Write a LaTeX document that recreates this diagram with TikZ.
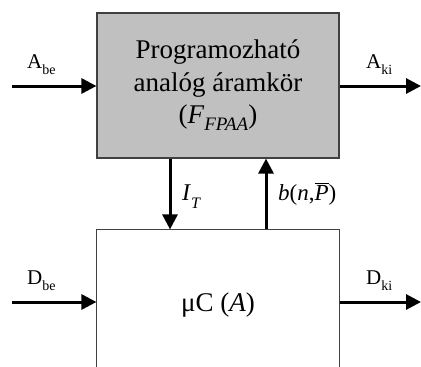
\documentclass[tikz,border=0pt]{standalone}
\usepackage{fontspec}
\setmainfont{Liberation Serif}
\usetikzlibrary{arrows.meta}
\definecolor{boxgray}{HTML}{C0C0C0}
\definecolor{edge}{HTML}{404040}
\newcommand\lowsub[3]{\raisebox{-#1pt}{\fontsize{#2}{#2}\selectfont #3}}
\tikzset{
  arr/.style={line width=3pt,-{Triangle[length=15pt,width=15pt]}},
  blk/.style={draw=edge,line width=1.2pt,minimum width=242pt,inner sep=0pt},
  lab/.style={inner sep=0pt,font=\fontsize{21}{24}\selectfont},
}
\begin{document}
\begin{tikzpicture}[x=1pt,y=-1pt]
\useasboundingbox (0,0) rectangle (421,367);
\node[blk,fill=boxgray,minimum height=145pt,align=center,
  font=\fontsize{27}{32.5}\selectfont] (fpaa) at (218,85.5)
  {Programozható\\analóg áramkör\\(\textit{F}\lowsub{7}{19}{\textit{FPAA}})};
\node[blk,draw=none,minimum height=150pt,font=\fontsize{27}{32}\selectfont] (mc) at (218,305)
  {μC (\textit{A})};
\draw[edge,line width=1.2pt] (mc.south west) -- (mc.north west) -- (mc.north east) -- (mc.south east);
\coordinate (abe) at (12,86);
\coordinate (aki) at (421,86);
\coordinate (dbe) at (12,302);
\coordinate (dki) at (421,302);
\draw[arr] (abe) -- (abe -| fpaa.west);
\draw[arr] (aki -| fpaa.east) -- (aki);
\draw[arr] (dbe) -- (dbe -| mc.west);
\draw[arr] (dki -| mc.east) -- (dki);
\draw[arr] ([xshift=-48pt]fpaa.south) -- ([xshift=-48pt]mc.north);
\draw[arr] ([xshift=48pt]mc.north) -- ([xshift=48pt]fpaa.south);
\node[lab,anchor=base west] (labe) at (27,68) {A\lowsub{6}{14}{be}};
\node[lab,anchor=base west] (laki) at (366,68) {A\lowsub{6}{14}{ki}};
\node[lab,anchor=base west] (ldbe) at (27,284) {D\lowsub{6}{14}{be}};
\node[lab,anchor=base west] (ldki) at (366,284) {D\lowsub{6}{14}{ki}};
\node[lab,anchor=base west,font=\fontsize{24}{27}\selectfont] (lit) at (182,200) {\textit{I}\lowsub{8}{16}{\textit{T}}};
\node[lab,anchor=base west,font=\fontsize{23}{27}\selectfont] (lb) at (278,200) {\textit{b}(\textit{n},$\overline{\mbox{\textit{P}}}$)};
\end{tikzpicture}
\end{document}
